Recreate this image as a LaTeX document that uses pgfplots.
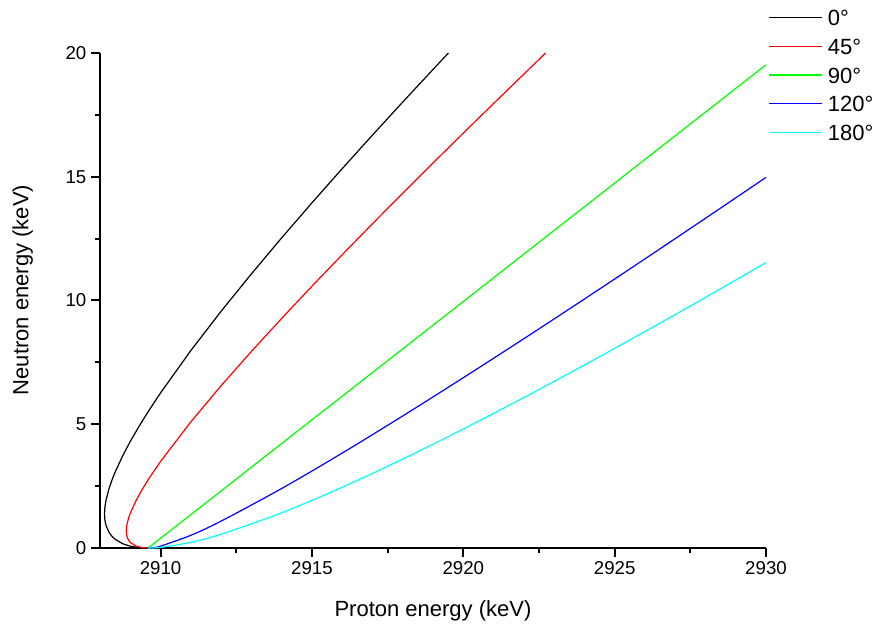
\documentclass[border=0pt]{standalone}
\usepackage{fontspec}
\setmainfont{Liberation Sans}
\usepackage{pgfplots}
\pgfplotsset{compat=1.18}
\definecolor{angzero}{RGB}{0,0,0}
\definecolor{angfortyfive}{RGB}{255,0,0}
\definecolor{angninety}{RGB}{0,255,0}
\definecolor{angonetwenty}{RGB}{0,0,255}
\definecolor{angoneeighty}{RGB}{0,255,255}

\begin{document}
\begin{tikzpicture}
\begin{axis}[at={(0,0)}, anchor=south west,
  scale only axis, width=499.5pt, height=371.25pt,
  xmin=2908, xmax=2930, ymin=0, ymax=20, clip=false,
  axis x line=bottom, axis y line=left,
  axis line style={-, line width=1.5pt},
  xtick={2910,2915,...,2930}, ytick={0,5,...,20}, minor tick num=1,
  tick align=outside, major tick length=6.75pt, minor tick length=3.5pt,
  every tick/.append style={black, line width=1.5pt},
  /pgf/number format/assume math mode=true,
  x tick label style={/pgf/number format/1000 sep={}},
  tick label style={font=\fontsize{14}{16}\selectfont},
  label style={font=\fontsize{16.5}{19}\selectfont},
  xlabel={Proton energy (keV)}, ylabel={Neutron energy (keV)},
  xlabel style={at={(axis description cs:0.5,-0.139)}, anchor=base},
  ylabel style={at={(axis description cs:-0.1077,0.521)}, anchor=base},
  legend cell align=left,
  legend image code/.code={\draw[#1] (0cm,0cm) -- (1.4cm,0cm);},
  legend style={draw=none, fill=none, at={(axis description cs:1.003,1.091)}, anchor=north west,
    font=\fontsize{16.5}{19}\selectfont, row sep=7.56pt, column sep=3pt, inner sep=0pt,
    nodes={inner sep=1pt, text height=12pt, text depth=0pt}},
  every axis plot/.append style={line width=0.9pt}]
% 0 degrees: lower branch then upper branch
\addplot[angzero] coordinates {(2909.59,0) (2909.45,0.003) (2909.3,0.015) (2909.0,0.073) (2908.75,0.172) (2908.5,0.353) (2908.4,0.467) (2908.3,0.630) (2908.2,0.910) (2908.175,1.036) (2908.16,1.155) (2908.15,1.374) (2908.16,1.613) (2908.175,1.761) (2908.2,1.935) (2908.3,2.407) (2908.4,2.761) (2908.5,3.066) (2908.75,3.726) (2909.0,4.304) (2909.3,4.936) (2909.59,5.506) (2910,6.266) (2911,7.977) (2912,9.565) (2913,11.073) (2914,12.529) (2915,13.944) (2916,15.326) (2917,16.682) (2918,18.017) (2919,19.333) (2919.51,20)};
\addlegendentry{0°}
% 45 degrees
\addplot[angfortyfive] coordinates {(2909.59,0) (2909.4,0.013) (2909.2,0.071) (2909.0,0.224) (2908.95,0.302) (2908.9,0.428) (2908.88,0.521) (2908.868,0.687) (2908.88,0.877) (2908.9,1.008) (2908.95,1.230) (2909.0,1.403) (2909.2,1.940) (2909.4,2.380) (2909.59,2.756) (2910,3.496) (2911,5.097) (2912,6.557) (2913,7.940) (2914,9.276) (2915,10.577) (2916,11.849) (2917,13.101) (2918,14.336) (2919,15.555) (2920,16.762) (2921,17.959) (2922,19.145) (2922.72,20)};
\addlegendentry{45°}
% 90 degrees
\addplot[angninety] coordinates {(2909.59,0) (2915,5.178) (2920,9.960) (2925,14.743) (2930,19.525)};
\addlegendentry{90°}
% 120 degrees
\addplot[angonetwenty, smooth] coordinates {(2909.59,0) (2909.8,0.024) (2910,0.075) (2911,0.512) (2912,1.086) (2914,2.403) (2916,3.835) (2918,5.335) (2920,6.880) (2922,8.455) (2924,10.058) (2926,11.681) (2928,13.321) (2930,14.974)};
\addlegendentry{120°}
% 180 degrees
\addplot[angoneeighty, smooth] coordinates {(2909.59,0) (2910,0.025) (2911,0.229) (2912,0.557) (2914,1.422) (2916,2.455) (2918,3.594) (2920,4.809) (2922,6.079) (2924,7.394) (2926,8.745) (2928,10.126) (2930,11.534)};
\addlegendentry{180°}
\end{axis}
\pgfresetboundingbox
\path (-75pt,-61.5pt) rectangle (585pt,411pt);
\end{tikzpicture}
\end{document}
